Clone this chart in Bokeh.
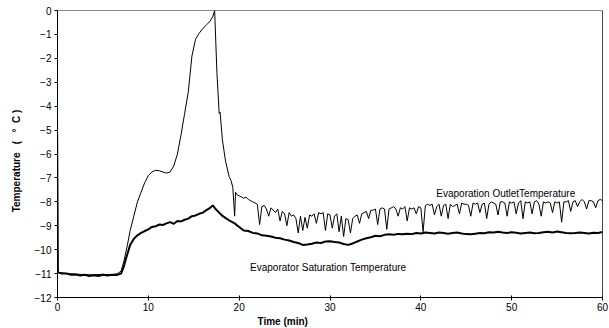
from bokeh.plotting import figure
from bokeh.embed import file_html
from bokeh.resources import INLINE
from bokeh.models import Range1d, FixedTicker, Span, Label, Title

# ---------------- data ----------------
x_ticks = [0, 10, 20, 30, 40, 50, 60]
y_ticks = [0, -1, -2, -3, -4, -5, -6, -7, -8, -9, -10, -11, -12]

# Evaporation outlet temperature: start-up and superheat peak
outlet_t_early = [0, 0.03, 0.1, 1, 2, 3, 4, 5, 6, 6.6, 7.0, 7.3, 7.7, 8.0, 8.4,
                  8.8, 9.2, 9.6, 10.0, 10.4, 10.8, 11.2, 11.6, 12.0, 12.4, 12.8,
                  13.2, 13.6, 14.0, 14.4, 14.8, 15.2, 15.6, 16.0, 16.4, 16.8, 17.1,
                  17.3, 17.55, 17.8, 17.9, 18.15, 18.5, 18.9, 19.1, 19.3, 19.4,
                  19.5, 19.6, 19.75]
outlet_v_early = [-4.4, -6.1, -10.95, -11.0, -11.02, -11.05, -11.05, -11.03, -11.05,
                  -11.0, -10.9, -10.5, -9.8, -9.2, -8.6, -8.0, -7.6, -7.2, -6.9,
                  -6.75, -6.68, -6.7, -6.75, -6.8, -6.75, -6.5, -6.0, -5.2, -4.3,
                  -3.4, -1.9, -1.2, -0.95, -0.75, -0.6, -0.45, -0.25, 0.0, -2.6,
                  -4.3, -4.25, -5.4, -6.3, -6.95, -7.1, -7.4, -8.0, -8.6, -7.6, -7.7]

# Evaporation outlet temperature: oscillating part, sampled every 0.25 min from 20 min
outlet_v_late = [
    -7.75, -7.8, -7.85, -7.8,
    -7.9, -7.95, -8.0, -8.05,
    -8.1, -8.95, -8.2, -8.15,
    -8.3, -8.6, -8.25, -8.35,
    -8.45, -8.3, -8.8, -8.4,
    -8.5, -9.0, -8.45, -8.6,
    -8.55, -8.7, -9.3, -8.6,
    -9.2, -8.65, -9.1, -8.55,
    -8.6, -8.5, -8.9, -8.45,
    -8.5, -8.45, -9.2, -8.5,
    -8.55, -9.1, -8.6, -8.5,
    -9.25, -8.6, -9.45, -8.7,
    -8.75, -9.3, -8.7, -8.6,
    -8.55, -8.9, -8.5, -8.45,
    -8.4, -8.7, -8.35, -8.35,
    -8.3, -8.95, -8.3, -8.25,
    -8.3, -9.15, -8.3, -8.25,
    -8.2, -8.3, -8.6, -8.25,
    -8.3, -8.2, -8.8, -8.25,
    -8.3, -8.25, -8.5, -8.2,
    -8.25, -9.25, -8.15, -8.1,
    -8.15, -8.1, -8.55, -8.2,
    -8.1, -8.6, -8.15, -8.1,
    -8.7, -8.1, -8.2, -8.15,
    -8.1, -8.5, -8.05, -8.1,
    -8.1, -8.15, -8.6, -8.05,
    -8.1, -8.05, -8.45, -8.1,
    -8.05, -8.7, -8.1, -8.0,
    -8.05, -8.1, -8.55, -8.0,
    -8.0, -8.05, -8.6, -8.0,
    -8.05, -8.0, -8.5, -8.05,
    -7.95, -8.7, -8.0, -8.05,
    -8.0, -8.5, -8.0, -7.95,
    -8.1, -8.6, -8.0, -8.05,
    -8.0, -8.05, -8.45, -8.0,
    -8.05, -8.0, -8.85, -8.0,
    -8.0, -7.95, -8.4, -8.0,
    -7.95, -8.2, -8.0, -7.9,
    -8.0, -8.3, -7.95, -7.95,
    -8.0, -8.25, -7.95, -7.9,
    -7.95,
]
outlet_t_late = [20 + 0.25 * i for i in range(len(outlet_v_late))]

# Evaporator saturation temperature
sat_t_early = [0, 0.5, 1, 1.5, 2, 2.5, 3, 3.5, 4, 4.5, 5, 5.5, 6, 6.5, 7.0, 7.3,
               7.6, 8.0, 8.4, 8.8, 9.2, 9.6, 10.0, 10.4, 10.8, 11.2, 11.6, 12.0,
               12.4, 12.8, 13.2, 13.6, 14.0, 14.4, 14.8, 15.2, 15.6, 16.0, 16.4,
               16.8, 17.1, 17.4, 17.8, 18.2, 18.6, 19.0, 19.5]
sat_v_early = [-10.95, -11.0, -11.0, -11.05, -11.04, -11.08, -11.05, -11.1, -11.07,
               -11.1, -11.05, -11.08, -11.05, -11.06, -11.0, -10.7, -10.3, -9.8,
               -9.55, -9.4, -9.3, -9.22, -9.15, -9.05, -9.02, -8.95, -8.97, -8.9,
               -8.85, -8.92, -8.8, -8.82, -8.75, -8.7, -8.6, -8.57, -8.5, -8.45,
               -8.35, -8.25, -8.15, -8.3, -8.45, -8.6, -8.7, -8.8, -8.9]
sat_v_late = [-9.05, -9.2, -9.22, -9.3, -9.32, -9.4, -9.42, -9.45, -9.5, -9.52,
              -9.58, -9.62, -9.68, -9.72, -9.8, -9.78, -9.75, -9.7, -9.72, -9.66,
              -9.65, -9.68, -9.7, -9.76, -9.8, -9.74, -9.66, -9.58, -9.52, -9.48,
              -9.42, -9.44, -9.38, -9.36, -9.38, -9.34, -9.36, -9.33, -9.35, -9.3,
              -9.32, -9.28, -9.3, -9.32, -9.28, -9.3, -9.33, -9.3, -9.28, -9.32,
              -9.35, -9.36, -9.33, -9.3, -9.31, -9.27, -9.28, -9.25, -9.28, -9.3,
              -9.27, -9.29, -9.32, -9.3, -9.28, -9.31, -9.3, -9.27, -9.25, -9.28,
              -9.24, -9.27, -9.3, -9.31, -9.3, -9.28, -9.3, -9.32, -9.29, -9.3,
              -9.26]
sat_t_late = [20 + 0.5 * i for i in range(len(sat_v_late))]

outlet_t = outlet_t_early + outlet_t_late
outlet_v = outlet_v_early + outlet_v_late
sat_t = sat_t_early + sat_t_late
sat_v = sat_v_early + sat_v_late

FONT = "Liberation Sans"
NB = "\u00a0"

# ---------------- figure ----------------
p = figure(width=609, height=328, x_range=Range1d(0, 60), y_range=Range1d(-12, 0),
           output_backend="svg", toolbar_location=None,
           min_border_left=57, min_border_right=7, min_border_top=10,
           min_border_bottom=31)
p.background_fill_color = "white"
p.border_fill_color = "white"
p.xgrid.visible = False
p.ygrid.visible = False
p.outline_line_color = "#8a8a8a"
p.outline_line_width = 1

p.line(sat_t, sat_v, line_color="black", line_width=2)
p.line(outlet_t, outlet_v, line_color="black", line_width=1)

p.add_layout(Span(location=60, dimension="height", line_color="black", line_width=1))

# axes
for ax in (p.xaxis[0], p.yaxis[0]):
    ax.axis_line_color = "black"
    ax.major_tick_line_color = "black"
    ax.minor_tick_line_color = None
    ax.major_label_text_font = FONT
    ax.major_label_text_font_size = "10px"
    ax.major_label_text_color = "black"
    ax.axis_label_text_font = FONT
    ax.axis_label_text_font_size = "10px"
    ax.axis_label_text_font_style = "bold"
    ax.axis_label_text_color = "black"

p.xaxis.ticker = FixedTicker(ticks=x_ticks)
p.yaxis.ticker = FixedTicker(ticks=y_ticks)
p.xaxis.major_tick_in = 2
p.xaxis.major_tick_out = 3
p.xaxis.major_label_standoff = 2
p.yaxis.major_tick_in = 0
p.yaxis.major_tick_out = 3
p.yaxis.major_label_standoff = 3
p.yaxis.axis_label = ("Temperature" + NB * 3 + "(" + NB * 3 + "°" + NB * 2 + "C"
                      + NB + ")" + NB * 5)
p.yaxis.axis_label_standoff = 10

p.add_layout(Title(text="Time (min)", align="left", offset=200, standoff=0,
                   text_font=FONT, text_font_size="10px", text_font_style="bold",
                   text_color="black"), "below")

p.add_layout(Label(x=41.7, y=-7.64, text="Evaporation OutletTemperature",
                   text_font=FONT, text_font_size="10px", text_baseline="middle",
                   text_color="black"))
p.add_layout(Label(x=21.2, y=-10.74, text="Evaporator Saturation Temperature",
                   text_font=FONT, text_font_size="10px", text_baseline="middle",
                   text_color="black"))

open("out.html", "w").write(file_html(p, INLINE))
